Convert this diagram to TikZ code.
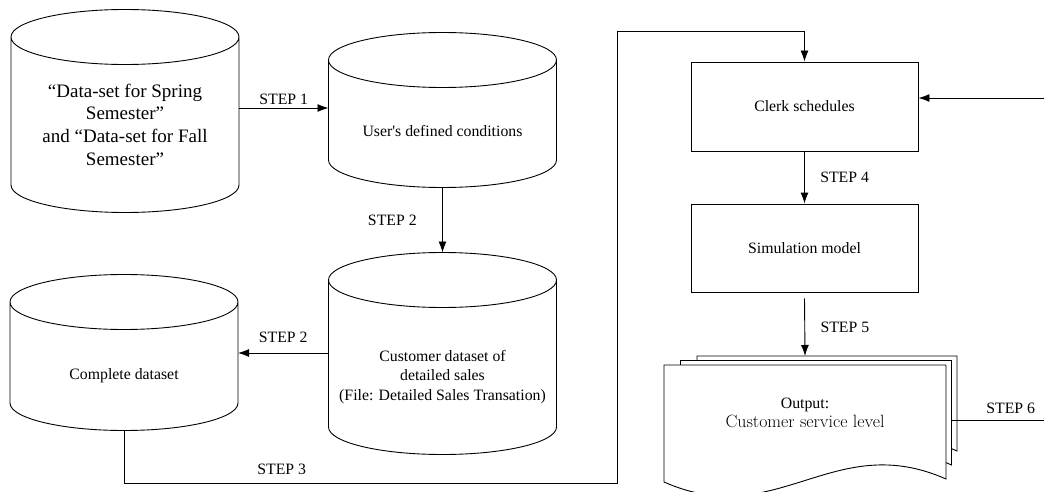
\documentclass[tikz,border=0pt]{standalone}
\usepackage{fontspec}
\newfontfamily\timesfont{Liberation Serif}
\usetikzlibrary{arrows.meta,calc,backgrounds}

\begin{document}
\begin{tikzpicture}[
x=1pt,
y=1pt,
every node/.style={
  font=\timesfont\fontsize{15.8}{19.5}\selectfont
  },
drum/.style={
  draw=none,
  minimum width=228pt,
  minimum height=#1,
  outer sep=0pt,
  align=center
  },
stage/.style={
  draw,
  minimum width=227pt,
  minimum height=89pt
  },
line width=0.9pt,
>={Latex[length=11pt,width=8pt]}
]
\useasboundingbox (0,0) rectangle (1044,-492);

% data stores
\node[drum=175.5pt, font=\timesfont\fontsize{19}{22.8}\selectfont] (spring) at (125,-124.75)
  {“Data-set for Spring\\Semester”\\and “Data-set for Fall\\Semester”};
\node[drum=113pt] (usr) at (442.5,-131) {User\textquotesingle s defined conditions};
\node[drum=155pt] (cust) at (442.5,-377)
  {Customer dataset of\\detailed sales\\(File: Detailed Sales Transation)};
\node[drum=109pt] (full) at (124,-376) {Complete dataset};

% process boxes
\node[stage] (clerk) at (804.5,-106.5) {Clerk schedules};
\node[stage, minimum height=88pt] (sim) at (804.5,-248) {Simulation model};
\node[minimum width=282pt, minimum height=96pt, outer sep=0pt, align=center] (out) at (805,-413)
  {Output:\\{\rmfamily\fontsize{17.8}{20}\selectfont Customer service level}};

% cylinder outlines
\foreach \n/\a in {spring/0,usr/14.5,cust/19.5,full/19.5}
  \draw ([yshift=\a pt]\n.north west) -- ([yshift=27.5pt]\n.south west)
    arc[start angle=180, end angle=360, x radius=114pt, y radius=27.5pt]
    -- ([yshift=\a pt]\n.north east)
    ([yshift=\a pt]\n.north) ellipse[x radius=114pt, y radius=27.5pt];

% stacked output pages
\begin{scope}[on background layer={line width=0.9pt}]
\foreach \k in {2,1,0}
  \draw[fill=white] ($(out.north west)+(16.5*\k,4.5*\k)$)
    -- ($(out.north east)+(5.5*\k,4.5*\k)$)
    -- ($(out.south east)+(5.5*\k,-18+14*\k)$)
    .. controls +(-113,50) and +(113,-50) .. ($(out.south west)+(16.5*\k,-21+14*\k)$)
    -- cycle;
\end{scope}

\coordinate (turn) at (617,-483);
\coordinate (exit) at (1044,-420);
\coordinate (back) at (1044,-98);

\draw[->] ([yshift=16.75pt]spring.east) -- ([yshift=16.75pt]spring.east -| usr.west)
  node[midway, above] {STEP 1};
\draw[->] (usr.south) -- ([yshift=47pt]cust.north) node[midway, left=22pt] {STEP 2};
\draw[->] ([yshift=24pt]cust.west) -- ([yshift=24pt]cust.west -| full.east)
  node[midway, above=7pt] {STEP 2};
\draw[->] (full.south) |- node[pos=0.66, above=5pt] {STEP 3} (turn)
  |- ([yshift=30pt]clerk.north) -- (clerk.north);
\draw[->] (clerk.south) -- (sim.north) node[midway, right=12pt] {STEP 4};
\draw[->] ([yshift=-6pt]sim.south) -- ([yshift=9pt]out.north) node[midway, right=12pt] {STEP 5};
\draw ([xshift=5.5pt,yshift=-7pt]out.east) -- (exit) node[pos=0.64, above=3pt] {STEP 6};
\draw[->] (back) -- (back -| clerk.east);
\end{tikzpicture}
\end{document}
